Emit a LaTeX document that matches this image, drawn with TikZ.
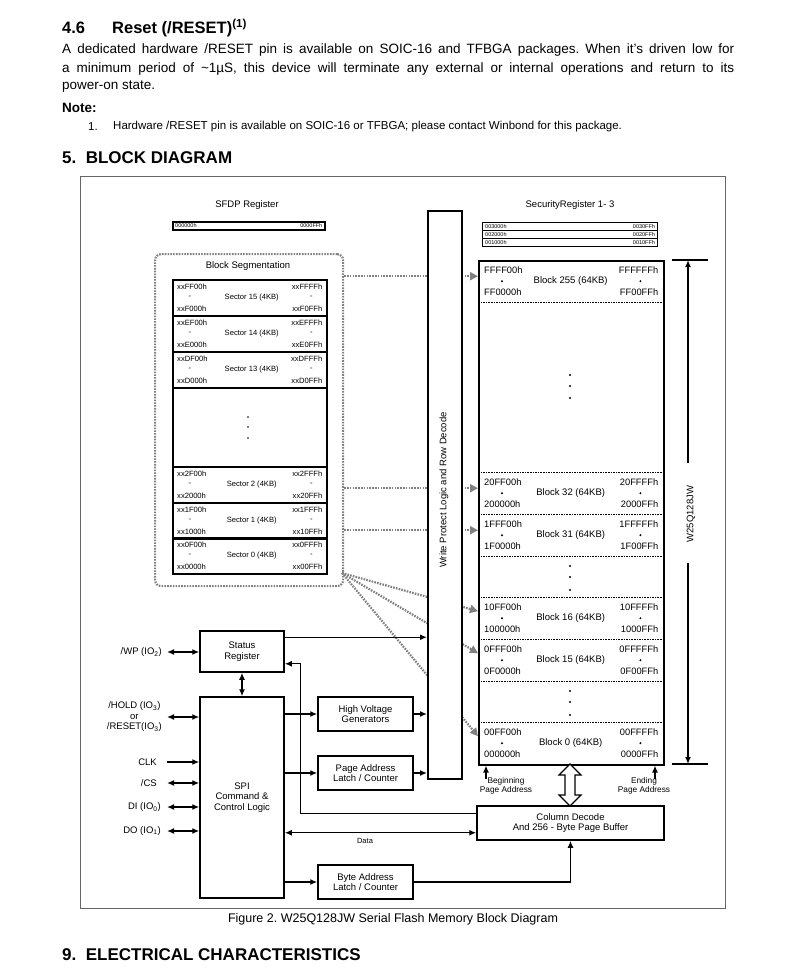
\documentclass[tikz,border=0pt]{standalone}
\usepackage{fontspec}
\setmainfont{Liberation Sans}
\usetikzlibrary{arrows.meta, positioning, calc}
\frenchspacing

\tikzset{
  blk/.style={draw, line width=1.5pt, inner sep=0pt},
  lbl/.style={font=\fontsize{9.5}{10.5}\selectfont, align=center, inner sep=0pt},
  adr/.style={font=\fontsize{9.3}{10}\selectfont, inner sep=0pt},
  sadr/.style={font=\fontsize{7.6}{8}\selectfont, inner sep=0pt},
  regadr/.style={font=\fontsize{5.5}{5.5}\selectfont, inner sep=0pt},
  mdot/.style={circle, fill, inner sep=0pt, minimum size=2.2pt},
  sig/.style={line width=1.4pt, -{Latex[length=7pt,width=6pt]}},
  bisig/.style={line width=1.4pt, {Latex[length=7pt,width=6pt]}-{Latex[length=7pt,width=6pt]}},
  seg/.style={draw=gray, line width=2.2pt, dash pattern=on 1.6pt off 1.2pt},
  segarr/.style={seg, -{Triangle[length=8pt,width=8pt]}},
  sep/.style={line width=1pt, dash pattern=on 1.6pt off 1pt},
  txt/.style={font=\fontsize{13.5}{16}\selectfont, anchor=west, inner sep=0pt},
  head/.style={font=\fontsize{16.5}{19}\selectfont\bfseries, anchor=west, inner sep=0pt},
}

\begin{document}
\begin{tikzpicture}[x=1pt, y=-1pt]
\useasboundingbox (0,0) rectangle (790,971);

% page text round the figure
\node[head] (hnum) at (62,28) {4.6};
\node[head] (htitle) at (112,28) {Reset (/RESET)\textsuperscript{(1)}};
\node[txt] (par1) at (62,50) {\makebox[672pt][s]{A dedicated hardware /RESET pin is available on SOIC-16 and TFBGA packages. When it’s driven low for}};
\node[txt] (par2) at (62,69) {\makebox[672pt][s]{a minimum period of \textasciitilde1µS, this device will terminate any external or internal operations and return to its}};
\node[txt] (par3) at (62,87) {power-on state.};
\node[txt, font=\fontsize{13.5}{16}\selectfont\bfseries] (note) at (62,108) {Note:};
\node[txt, font=\fontsize{11.5}{13}\selectfont] (note1n) at (88,127) {1.};
\node[txt, font=\fontsize{11.5}{13}\selectfont] (note1) at (113,127) {Hardware /RESET pin is available on SOIC-16 or TFBGA; please contact Winbond for this package.};
\node[head, font=\fontsize{17}{20}\selectfont\bfseries] (sec5) at (62,158) {5.\ \ BLOCK DIAGRAM};
\draw[draw=black!60, line width=0.9pt] (80,176) rectangle (725,908);
\node[font=\fontsize{12.5}{14}\selectfont, inner sep=0pt] (caption) at (393,919) {Figure 2. W25Q128JW Serial Flash Memory Block Diagram};
\node[head, font=\fontsize{17}{20}\selectfont\bfseries] (sec9) at (62,955) {9.\ \ ELECTRICAL CHARACTERISTICS};

% registers
\node[lbl] (sfdplbl) at (247,205) {SFDP Register};
\node[blk, minimum width=152, minimum height=8, anchor=north west] (sfdp) at (172,221) {};
\node[regadr, anchor=west] (sfdpa) at ($(sfdp.west)+(3,0)$) {000000h};
\node[regadr, anchor=east] (sfdpb) at ($(sfdp.east)+(-3,0)$) {0000FFh};
\node[lbl] (seclbl) at (570,205) {SecurityRegister 1- 3};
\foreach \i/\y in {3/222, 2/230, 1/238}{
  \node[blk, line width=1.2pt, minimum width=175, minimum height=8, anchor=north west] (sr\i) at (482,\y) {};
  \node[regadr, anchor=west] (sr\i a) at ($(sr\i.west)+(3,0)$) {00\i000h};
  \node[regadr, anchor=east] (sr\i b) at ($(sr\i.east)+(-3,0)$) {00\i0FFh};
}

% block segmentation
\node[seg, rounded corners=6pt, minimum width=188, minimum height=332, anchor=north west] (segbox) at (154,253) {};
\node[lbl] (seglbl) at (248,266) {Block Segmentation};
\foreach \n/\y/\hx in {15/279/F, 14/315/E, 13/351/D, 2/466/2, 1/502/1, 0/537/0}{
  \node[blk, minimum width=154, minimum height=36, anchor=north west] (s\n) at (172,\y) {};
  \node[sadr, anchor=west] (s\n-lt) at ($(s\n.north west)+(5,8)$) {xx\hx F00h};
  \node[sadr] (s\n-lm) at ($(s\n.west)+(18,0)$) {-};
  \node[sadr, anchor=west] (s\n-lb) at ($(s\n.south west)+(5,-8)$) {xx\hx 000h};
  \node[sadr, anchor=east] (s\n-rt) at ($(s\n.north east)+(-5,8)$) {xx\hx FFFh};
  \node[sadr] (s\n-rm) at ($(s\n.east)+(-16,0)$) {-};
  \node[sadr, anchor=east] (s\n-rb) at ($(s\n.south east)+(-5,-8)$) {xx\hx 0FFh};
  \node[sadr] (s\n-c) at ($(s\n.center)+(2,0)$) {Sector \n\ (4KB)};
}
\node[blk, minimum width=154, minimum height=79, anchor=north west] (sgap) at (172,387) {};
\foreach \y in {417, 427, 438}
  \fill (248,\y) circle (0.8);

% memory array
\foreach \b/\y/\p in {255/260/FF, 32/472/20, 31/514/1F, 16/597/10, 15/639/0F, 0/722/00}{
  \node[minimum width=185, minimum height=42, inner sep=0pt, anchor=north west] (b\b) at (478,\y) {};
  \node[adr, anchor=west] (b\b-lt) at ($(b\b.north west)+(6,10)$) {\p FF00h};
  \node[mdot] (b\b-lm) at ($(b\b.west)+(24,0)$) {};
  \node[adr, anchor=west] (b\b-lb) at ($(b\b.south west)+(6,-10)$) {\p 0000h};
  \node[adr, anchor=east] (b\b-rt) at ($(b\b.north east)+(-5,10)$) {\p FFFFh};
  \node[mdot] (b\b-rm) at ($(b\b.east)+(-23,0)$) {};
  \node[adr, anchor=east] (b\b-rb) at ($(b\b.south east)+(-5,-10)$) {\p 00FFh};
  \node[lbl] (b\b-c) at (b\b.center) {Block \b\ (64KB)};
}
\foreach \y in {302, 472, 514, 556, 597, 639, 681, 722}
  \draw[sep] (478,\y) -- (663,\y);
\foreach \y in {375, 386, 398, 566, 577, 590, 691, 702, 715}
  \fill (570,\y) circle (1.1);
\node[blk, minimum width=185, minimum height=504, anchor=north west] (mem) at (478,260) {};

% dotted map arrows
\coordinate (fan) at (342,573);
\foreach \b in {255, 32, 31}
  \draw[segarr] (segbox.east |- {$(b\b.west)+(0,-5)$}) -- ($(b\b.west)+(0,-5)$);
\foreach \b in {16, 15, 0}
  \draw[segarr] (fan) -- ($(b\b.west)+(0,-7)$);

% write protect
\node[blk, fill=white, minimum width=34, minimum height=568, anchor=north west] (wp) at (427,210) {};
\node[lbl, rotate=90] (wplbl) at (444,490) {Write Protect Logic and Row Decode};

% size mark
\draw[line width=1.4pt] (672,260) -- (708,260);
\draw[line width=1.4pt] (672,764) -- (708,764);
\coordinate (dimtop) at (688,260);
\coordinate (dimbot) at (688,764);
\node[lbl, rotate=90] (dimlbl) at (691,514) {W25Q128JW};
\draw[sig] (dimtop |- 0,463) -- (dimtop);
\draw[sig] (dimbot |- 0,563) -- (dimbot);

% page address marks
\node[font=\fontsize{8.3}{9}\selectfont, align=center, inner sep=0pt] (begl) at (506,786) {Beginning\\Page Address};
\node[font=\fontsize{8.3}{9}\selectfont, align=center, inner sep=0pt] (endl) at (644,786) {Ending\\Page Address};
\coordinate (begin) at (486,779);
\coordinate (end) at (655,779);
\draw[sig] (begin) -- (begin |- mem.south);
\draw[sig] (end) -- (end |- mem.south);

% logic blocks
\node[blk, lbl, minimum width=187, minimum height=34] (coldec) at (570.5,823) {Column Decode\\And 256 - Byte Page Buffer};
\draw[line width=1.1pt, fill=white] (570,764) -- (581,775) -- (575,775) -- (575,795) -- (581,795) -- (570,806) -- (559,795) -- (565,795) -- (565,775) -- (559,775) -- cycle;
\node[blk, lbl, minimum width=84, minimum height=201] (spi) at (242,797.5) {SPI\\Command \&\\Control Logic};
\node[blk, lbl, minimum width=84, minimum height=41] (status) at (242,651.5) {Status\\Register};
\node[blk, lbl, minimum width=95, minimum height=34] (hv) at (365.5,714) {High Voltage\\Generators};
\node[blk, lbl, minimum width=95, minimum height=34] (page) at (365.5,773) {Page Address\\Latch / Counter};
\node[blk, lbl, minimum width=95, minimum height=34] (byte) at (365.5,882) {Byte Address\\Latch / Counter};

\draw[bisig] (status) -- (spi);
\draw[sig] ($(status.north east)+(0,7)$) coordinate (st1) -- (st1 -| wp.west);
\draw[sig] ($(coldec.north west)+(0,8)$) -| ($(status.south east)+(16,-9)$) -- ($(status.south east)+(0,-9)$);
\draw[sig] (spi.east |- hv.west) -- (hv.west);
\draw[sig] (hv.east) -- (hv.east -| wp.west);
\draw[sig] (spi.east |- page.west) -- (page.west);
\draw[sig] (page.east) -- (page.east -| wp.west);
\draw[bisig] ($(coldec.south west)+(0,-8)$) coordinate (dat) -- (dat -| spi.east);
\node[font=\fontsize{7.5}{8}\selectfont, inner sep=0pt] (datalbl) at (365,841) {Data};
\draw[sig] (spi.east |- byte.west) -- (byte.west);
\draw[sig] (byte.east) -| (coldec.south);

% pins
\coordinate (pinx) at (167,652);
\node[lbl, anchor=east] (pwp) at (162,652) {/WP (IO\textsubscript{2})};
\node[lbl, anchor=east] (phold) at (162,717) {/HOLD (IO\textsubscript{3})\\or\\/RESET(IO\textsubscript{3})};
\node[lbl, anchor=east] (pclk) at (157,762) {CLK};
\node[lbl, anchor=east] (pcs) at (157,783) {/CS};
\node[lbl, anchor=east] (pdi) at (161,807) {DI (IO\textsubscript{0})};
\node[lbl, anchor=east] (pdo) at (161,831) {DO (IO\textsubscript{1})};
\draw[bisig] (pwp -| pinx) -- (pwp -| status.west);
\draw[bisig] (phold -| pinx) -- (phold -| spi.west);
\draw[sig] (pclk -| pinx) -- (pclk -| spi.west);
\draw[bisig] (pcs -| pinx) -- (pcs -| spi.west);
\draw[bisig] (pdi -| pinx) -- (pdi -| spi.west);
\draw[bisig] (pdo -| pinx) -- (pdo -| spi.west);
\end{tikzpicture}
\end{document}
